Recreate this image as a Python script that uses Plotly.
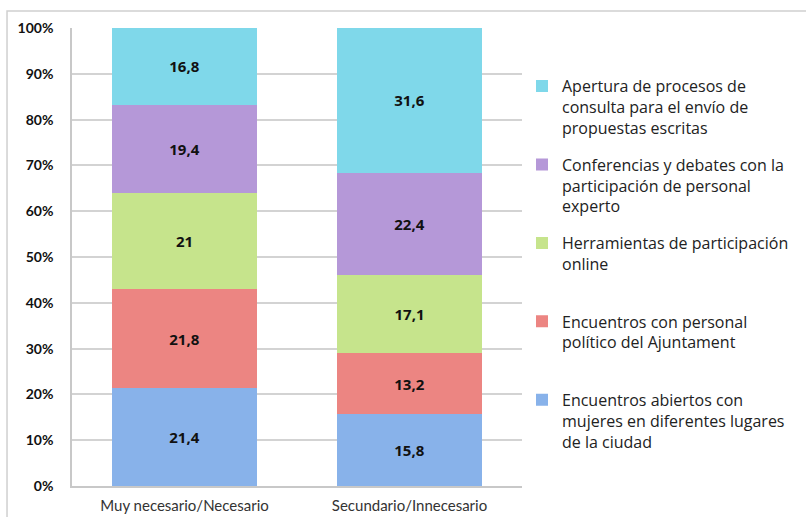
import plotly.graph_objects as go

categories = ["Muy necesario/Necesario", "Secundario/Innecesario"]
series_names = [
    "Encuentros abiertos con<br>mujeres en diferentes lugares<br>de la ciudad",
    "Encuentros con personal<br>político del Ajuntament<br> ",
    "Herramientas de participación<br>online<br> ",
    "Conferencias y debates con la<br>participación de personal<br>experto",
    "Apertura de procesos de<br>consulta para el envío de<br>propuestas escritas",
]
encuentros_abiertos = [21.4, 15.8]
encuentros_politico = [21.8, 13.2]
herramientas_online = [21.0, 17.1]
conferencias = [19.4, 22.4]
apertura = [16.8, 31.6]
series_values = [encuentros_abiertos, encuentros_politico, herramientas_online, conferencias, apertura]
colors = ["#88b2ea", "#ec8582", "#c6e48c", "#b598d8", "#7fd8ea"]

def fmt(v):
    s = ("%.1f" % v).rstrip("0").rstrip(".")
    return s.replace(".", ",")

fig = go.Figure()
n = len(series_names)
for i, (name, vals) in enumerate(zip(series_names, series_values)):
    fig.add_trace(go.Bar(
        x=categories, y=vals, name=name,
        text=[fmt(v) for v in vals], textposition="inside",
        insidetextanchor="middle",
        textfont=dict(family="Open Sans", size=15, color="#111111", weight="bold"),
        marker=dict(color=colors[i], line=dict(width=0)),
        legendgroup="g%d" % i, legendrank=n - i,
        hoverinfo="skip",
    ))

fig.update_layout(
    width=806, height=517,
    barmode="stack", barnorm="percent", bargap=0.355,
    plot_bgcolor="white", paper_bgcolor="white",
    margin=dict(l=72, r=284, t=28, b=31),
    showlegend=True,
    legend=dict(
        x=1.0, xanchor="left", y=0.91, yanchor="top",
        traceorder="grouped", valign="top", tracegroupgap=13,
        font=dict(family="Open Sans", size=16, color="#222222"),
        itemwidth=30,
    ),
    uniformtext=dict(mode="show", minsize=10),
)
fig.update_yaxes(
    range=[0, 100], tickvals=list(range(0, 101, 10)),
    ticktext=["%d%%" % t for t in range(0, 101, 10)],
    tickfont=dict(family="Lato", size=14, color="#111111", weight="bold"),
    showgrid=True, gridcolor="#d3d3d3", gridwidth=1.5,
    showline=True, linecolor="#c8c8c8", linewidth=1.5,
    ticks="", ticklabelstandoff=14, zeroline=False, automargin=False,
)
fig.update_xaxes(
    tickfont=dict(family="Lato", size=15, color="#333333"),
    showline=True, linecolor="#c8c8c8", linewidth=1.5,
    ticks="", ticklabelstandoff=5, automargin=False,
)
fig.add_shape(type="rect", xref="paper", yref="paper",
              x0=-0.1444, x1=1.8, y0=-0.3, y1=1.037,
              line=dict(color="#d0d0d0", width=1.5), fillcolor="rgba(0,0,0,0)",
              layer="below")
fig.write_html("out.html")
